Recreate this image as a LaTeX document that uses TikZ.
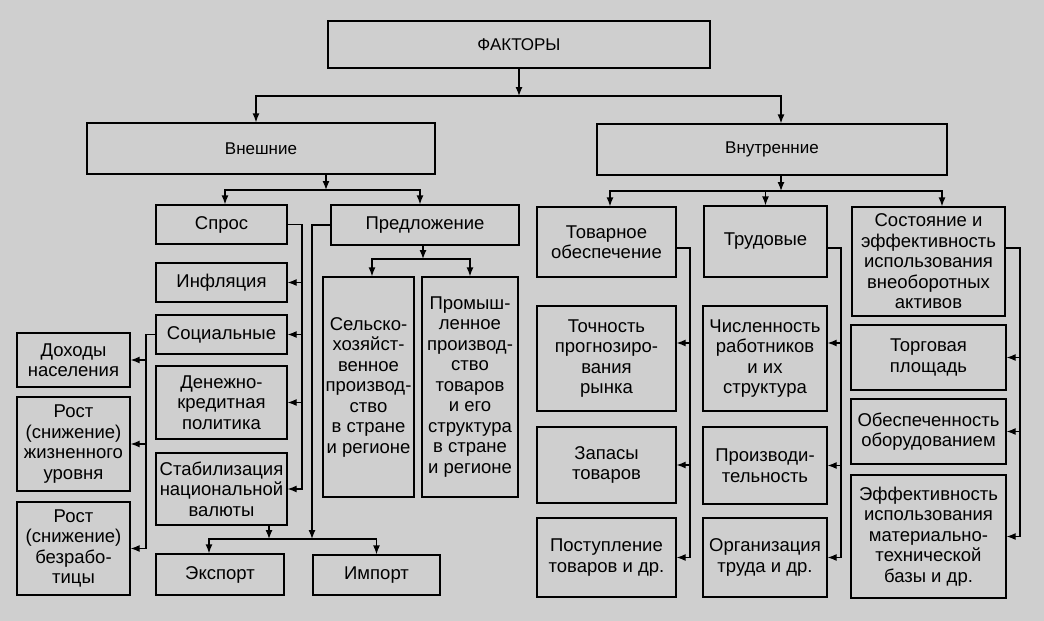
\documentclass[tikz,border=0pt]{standalone}
\usepackage{fontspec}
\setmainfont{Liberation Sans}
\usetikzlibrary{calc,arrows.meta}

\tikzset{
  box/.style={draw, line width=1.3pt, align=center, inner sep=0pt,
    font=\fontsize{18.5}{20.5}\selectfont},
  head/.style={box, font=\fontsize{17}{20}\selectfont},
  link/.style={line width=1.3pt, -{Latex[length=9pt,width=7pt]}},
}

\begin{document}
\begin{tikzpicture}[x=1pt, y=-1pt]
  \useasboundingbox[fill=black!19] (0,0) rectangle (1044,621);

  % top levels
  \node[head, minimum width=382pt, minimum height=47pt] (top) at (519,44.5) {ФАКТОРЫ};
  \node[head, minimum width=348pt, minimum height=51pt] (extern) at (261,148.5) {Внешние};
  \node[head, minimum width=350pt, minimum height=51pt] (intern) at (772,149.5) {Внутренние};

  % external: demand
  \node[box, minimum width=131pt, minimum height=39pt] (spros) at (221.5,224.5) {Спрос};
  \node[box, minimum width=131pt, minimum height=39pt] (infl) at (221.5,282.5) {Инфляция};
  \node[box, minimum width=131pt, minimum height=39pt] (soc) at (221.5,334.5) {Социальные};
  \node[box, minimum width=131pt, minimum height=73pt] (money) at (221.5,402.5) {Денежно-\\кредитная\\политика};
  \node[box, minimum width=131pt, minimum height=72pt] (stab) at (221.5,489) {Стабилизация\\национальной\\валюты};
  \node[box, minimum width=128pt, minimum height=41pt] (export) at (220,574.5) {Экспорт};

  \node[box, minimum width=113pt, minimum height=54pt] (income) at (73.5,360) {Доходы\\населения};
  \node[box, minimum width=113pt, minimum height=94pt] (life) at (73.5,444) {Рост\\(снижение)\\жизненного\\уровня};
  \node[box, minimum width=113pt, minimum height=93pt] (unemp) at (73.5,548.5) {Рост\\(снижение)\\безрабо-\\тицы};

  % external: supply
  \node[box, minimum width=188pt, minimum height=40pt] (supply) at (425,225) {Предложение};
  \node[box, minimum width=91pt, minimum height=220pt] (agri) at (368.5,387) {Сельско-\\хозяйст-\\венное\\производ-\\ство\\в стране\\и регионе};
  \node[box, minimum width=96pt, minimum height=220pt] (ind) at (470,387) {Промыш-\\ленное\\производ-\\ство\\товаров\\и его\\структура\\в стране\\и регионе};
  \node[box, minimum width=127pt, minimum height=40pt] (import) at (376.5,575) {Импорт};

  % internal
  \node[box, minimum width=139pt, minimum height=70pt] (goods) at (606.5,242) {Товарное\\обеспечение};
  \node[box, minimum width=139pt, minimum height=105pt] (accur) at (606.5,358.5) {Точность\\прогнозиро-\\вания\\рынка};
  \node[box, minimum width=139pt, minimum height=76pt] (stock) at (606.5,465) {Запасы\\товаров};
  \node[box, minimum width=139pt, minimum height=79pt] (recv) at (606.5,557.5) {Поступление\\товаров и др.};

  \node[box, minimum width=123pt, minimum height=71pt] (labor) at (765.5,241.5) {Трудовые};
  \node[box, minimum width=124pt, minimum height=105pt] (staff) at (765,358.5) {Численность\\работников\\и их\\структура};
  \node[box, minimum width=124pt, minimum height=77pt] (prod) at (765,465.5) {Производи-\\тельность};
  \node[box, minimum width=124pt, minimum height=79pt] (org) at (765,557.5) {Организация\\труда и др.};

  \node[box, minimum width=153pt, minimum height=109pt] (assets) at (928.5,261.5) {Состояние и\\эффективность\\использования\\внеоборотных\\активов};
  \node[box, minimum width=155pt, minimum height=65pt] (area) at (928.5,357.5) {Торговая\\площадь};
  \node[box, minimum width=155pt, minimum height=65pt] (equip) at (928.5,431.5) {Обеспеченность\\оборудованием};
  \node[box, minimum width=155pt, minimum height=123pt] (mtb) at (928.5,536.5) {Эффективность\\использования\\материально-\\технической\\базы и др.};

  % buses and trunks
  \coordinate (tbus) at (519,96);
  \coordinate (ebus) at (326,190);
  \coordinate (ibus) at (781,191);
  \coordinate (xbus) at (269,539);
  \coordinate (pbus) at (423,259);
  \coordinate (strunk) at (302,0);
  \coordinate (ctrunk) at (146,0);
  \coordinate (ptrunk) at (312,0);
  \coordinate (gtrunk) at (690,0);
  \coordinate (ltrunk) at (841,0);
  \coordinate (atrunk) at (1020,0);

  \draw[link] (top) -- (tbus);
  \draw[link] (tbus) -| ([xshift=-5pt]extern.north);
  \draw[link] (tbus) -| ([xshift=9pt]intern.north);

  \draw[link] (ebus |- extern.south) -- (ebus);
  \draw[link] (ebus) -| ([xshift=3.5pt]spros.north);
  \draw[link] (ebus) -| ([xshift=-5pt]supply.north);

  \draw[link] (ibus |- intern.south) -- (ibus);
  \draw[link] (ibus) -| ([xshift=3.5pt]goods.north);
  \draw[link] (ibus) -| (labor.north);
  \draw[link] (ibus) -| ([xshift=13.5pt]assets.north);

  \draw[link] (spros.east) -| (strunk |- stab) -- (stab.east);
  \foreach \n in {infl,soc,money}
    \draw[link] (strunk |- \n) -- (\n.east);

  \draw[link] (soc.west) -| (ctrunk |- unemp) -- (unemp.east);
  \foreach \n in {income,life}
    \draw[link] (ctrunk |- \n) -- (\n.east);

  \draw[link] (xbus |- stab.south) -- (xbus);
  \draw[link] (xbus) -| ([xshift=-11pt]export.north);
  \draw[link] (xbus) -| (import.north);
  \draw[link] (supply.west) -| (ptrunk |- xbus);

  \draw[link] (pbus |- supply.south) -- (pbus);
  \draw[link] (pbus) -| ([xshift=3.5pt]agri.north);
  \draw[link] (pbus) -| (ind.north);

  \draw[link] ([yshift=-6pt]goods.east) -| (gtrunk |- recv) -- (recv.east);
  \draw[link] ($(gtrunk |- accur)+(0,-15.5)$) -- ($(accur.east)+(0,-15.5)$);
  \draw[link] (gtrunk |- stock) -- (stock.east);

  \draw[link] ([yshift=-6.5pt]labor.east) -| (ltrunk |- org) -- (org.east);
  \draw[link] ($(ltrunk |- staff)+(0,-15.5)$) -- ($(staff.east)+(0,-15.5)$);
  \draw[link] (ltrunk |- prod) -- (prod.east);

  \draw[link] ([yshift=13.5pt]assets.east) -| (atrunk |- mtb) -- (mtb.east);
  \foreach \n in {area,equip}
    \draw[link] (atrunk |- \n) -- (\n.east);
\end{tikzpicture}
\end{document}
